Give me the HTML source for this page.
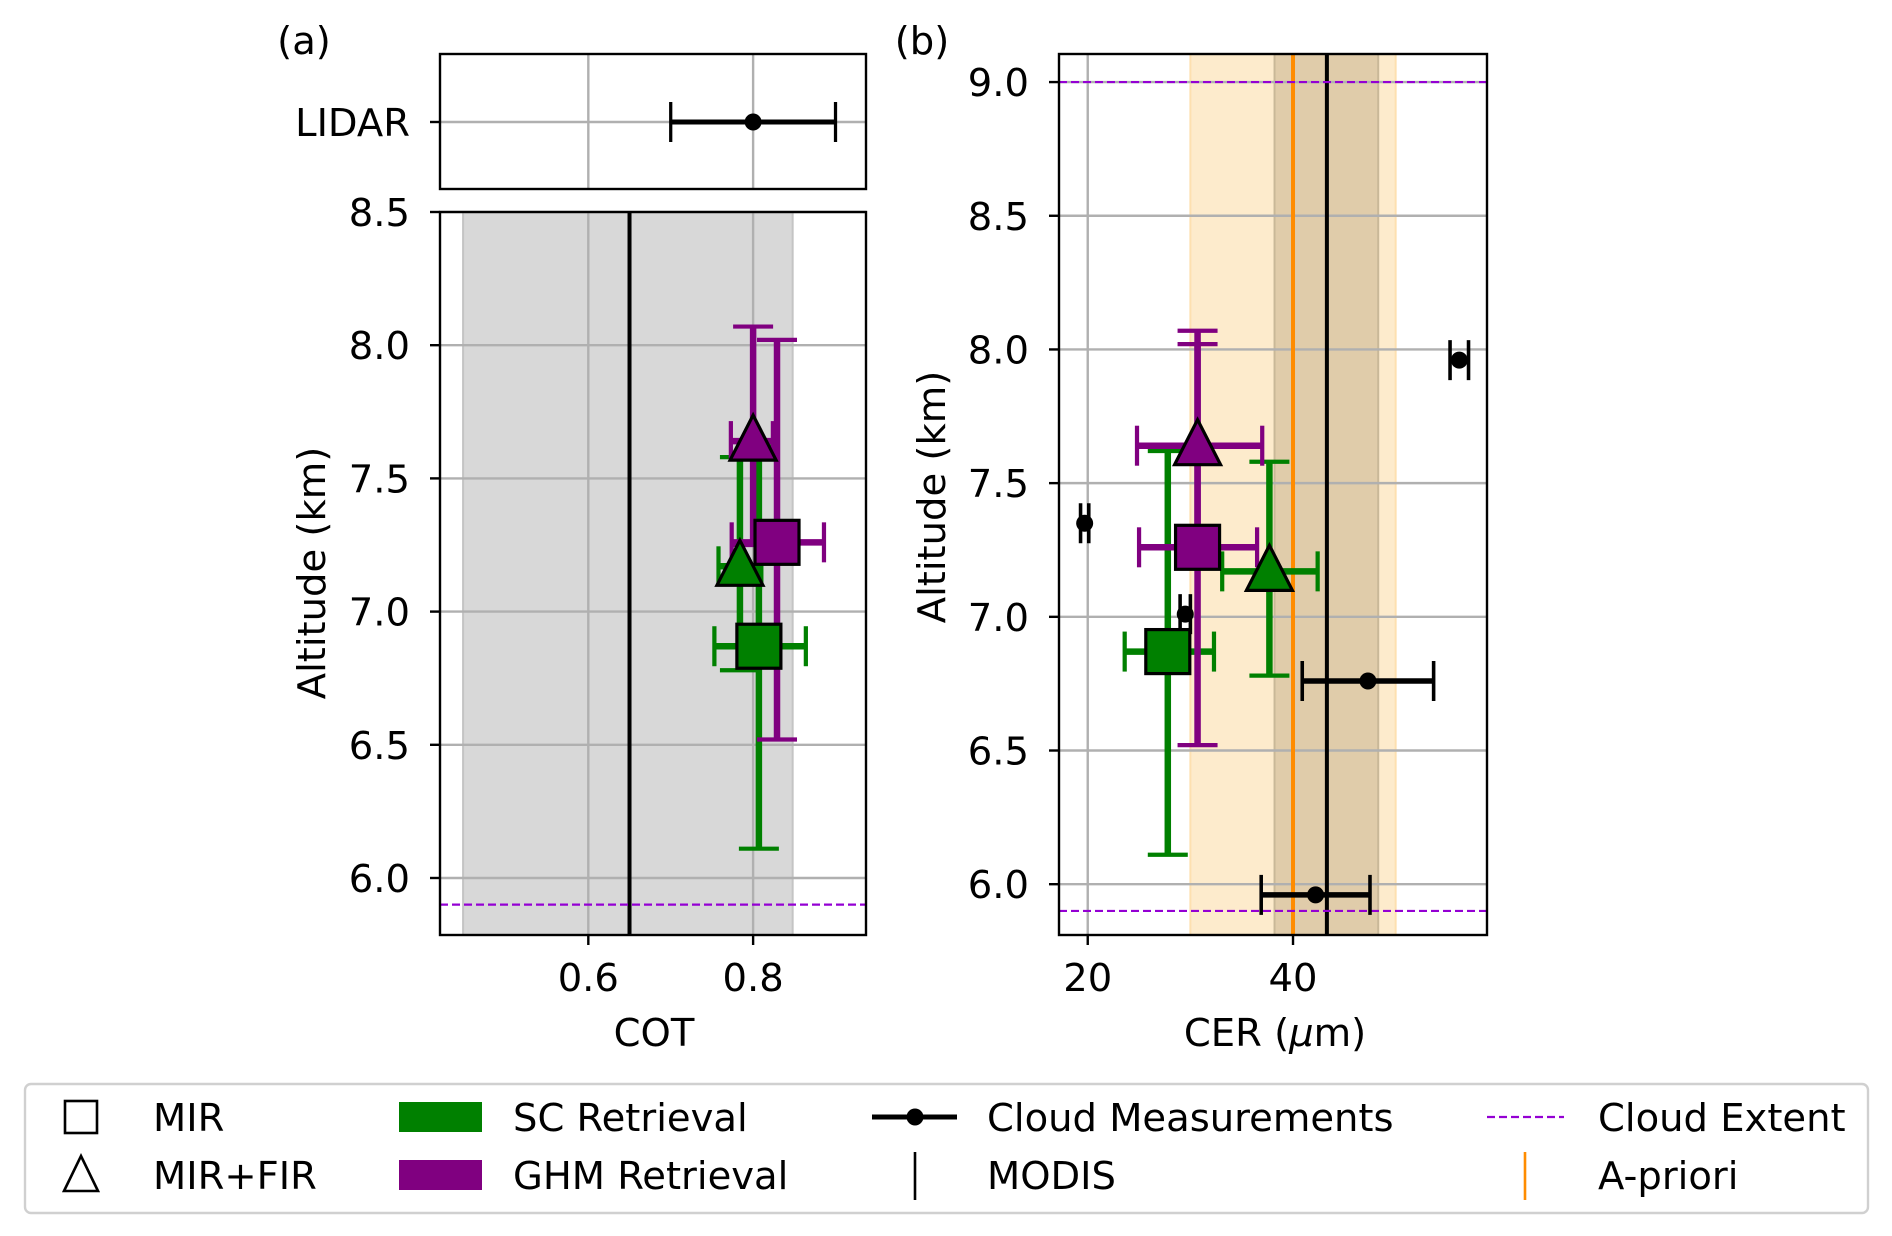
<!DOCTYPE html>
<html><head><meta charset="utf-8"><style>
html,body{margin:0;padding:0;background:#fff;}
svg{display:block;font-family:"DejaVu Sans","Liberation Sans",sans-serif;}
</style></head><body>
<svg id="chart" width="1892" height="1236" viewBox="0 0 1892 1236" xmlns="http://www.w3.org/2000/svg"></svg>
<script>
// ---- data ----
const cotTicks = [0.6, 0.8];
const cerTicks = [20, 40];
const altTicksA = [6.0, 6.5, 7.0, 7.5, 8.0, 8.5];
const altTicksB = [6.0, 6.5, 7.0, 7.5, 8.0, 8.5, 9.0];
const lidarCot = [0.8]; const lidarCotErr = [0.1];
const modisCot = [0.65]; const modisCotRange = [0.448, 0.848];
const modisCer = [43.3]; const modisCerRange = [38.2, 48.3];
const aprioriCer = [40]; const aprioriCerRange = [30, 50];
const cloudExtent = [5.9, 9.0];
const measCer = [56.2, 19.7, 29.5, 47.3, 42.2];
const measCerErr = [0.9, 0.4, 0.5, 6.4, 5.3];
const measAlt = [7.96, 7.35, 7.01, 6.76, 5.96];
const retNames = ['sc-mir', 'sc-mirfir', 'ghm-mir', 'ghm-mirfir'];
const retMarker = ['square', 'triangle', 'square', 'triangle'];
const retColor = ['green', 'green', 'purple', 'purple'];
const retAlt = [6.87, 7.17, 7.26, 7.64];
const retAltLo = [6.11, 6.78, 6.52, 7.25];
const retAltHi = [7.62, 7.58, 8.02, 8.07];
const retCot = [0.807, 0.784, 0.829, 0.800];
const retCotLo = [0.753, 0.758, 0.774, 0.773];
const retCotHi = [0.864, 0.810, 0.886, 0.824];
const retCer = [27.8, 37.7, 30.7, 30.7];
const retCerLo = [23.6, 33.1, 25.0, 24.8];
const retCerHi = [32.3, 42.4, 36.5, 37.0];

const NS = 'http://www.w3.org/2000/svg';
const svg = document.getElementById('chart');
function el(tag, attrs, parent, text){
  const e = document.createElementNS(NS, tag);
  for (const k in attrs) e.setAttribute(k, attrs[k]);
  if (text !== undefined) e.textContent = text;
  (parent || svg).appendChild(e);
  return e;
}
function lin(d0,d1,r0,r1){ return v => r0 + (v-d0)/(d1-d0)*(r1-r0); }

const A = {x0:440,x1:866,y0:212,y1:935};
const B = {x0:1059,x1:1487,y0:54,y1:935};
const xa = lin(0.42,0.937,A.x0,A.x1);
const ya = lin(8.5,5.786,A.y0,A.y1);
const xb = lin(17.2,58.9,B.x0,B.x1);
const yb = lin(9.105,5.81,B.y0,B.y1);
const FS = 38.5;
const TY = 14;

function gridAndTicks(g, P, xs, ys, xt, yt){
  xt.forEach(v=>{
    const l = el('line',{x1:xs(v),x2:xs(v),y1:P.y0,y2:P.y1,stroke:'#b0b0b0','stroke-width':2.4},g);
     
    el('line',{x1:xs(v),x2:xs(v),y1:P.y1,y2:P.y1+10,stroke:'#000','stroke-width':2.4},g);
    const t = el('text',{x:xs(v),y:P.y1+56,'text-anchor':'middle','font-size':FS},g, String(v));
     
  });
  yt.forEach(v=>{
    const l = el('line',{x1:P.x0,x2:P.x1,y1:ys(v),y2:ys(v),stroke:'#b0b0b0','stroke-width':2.4},g);
     
    el('line',{x1:P.x0-10,x2:P.x0,y1:ys(v),y2:ys(v),stroke:'#000','stroke-width':2.4},g);
    const t = el('text',{x:P.x0-30,y:ys(v)+TY,'text-anchor':'end','font-size':FS},g, v.toFixed(1));
     
  });
}
function errbar(g, cx, cy, x0, x1, y0, y1, color, w, cap){
  if (x0!==null){
    el('line',{x1:x0,x2:x1,y1:cy,y2:cy,stroke:color,'stroke-width':w},g);
    el('line',{x1:x0,x2:x0,y1:cy-cap,y2:cy+cap,stroke:color,'stroke-width':w*0.65},g);
    el('line',{x1:x1,x2:x1,y1:cy-cap,y2:cy+cap,stroke:color,'stroke-width':w*0.65},g);
  }
  if (y0!==null){
    el('line',{x1:cx,x2:cx,y1:y0,y2:y1,stroke:color,'stroke-width':w},g);
    el('line',{x1:cx-cap,x2:cx+cap,y1:y0,y2:y0,stroke:color,'stroke-width':w*0.65},g);
    el('line',{x1:cx-cap,x2:cx+cap,y1:y1,y2:y1,stroke:color,'stroke-width':w*0.65},g);
  }
}
function marker(g, type, cx, cy, color){
  let m;
  if (type==='square') m = el('rect',{x:cx-22,y:cy-22,width:44,height:44,fill:color,stroke:'#000','stroke-width':3.2},g);
  else m = el('polygon',{points:`${cx},${cy-26} ${cx+23},${cy+19} ${cx-23},${cy+19}`,fill:color,stroke:'#000','stroke-width':3.2},g);
  return m;
}

// ---------- Panel (a) ----------
const ga = el('g',{});  
const lab = el('text',{x:304,y:54,'text-anchor':'middle','font-size':FS},ga,'(a)');
 
const TA = {x0:440,x1:866,y0:54,y1:189};
const gl = el('g',{},ga);  
cotTicks.forEach(v=>{ el('line',{x1:xa(v),x2:xa(v),y1:TA.y0,y2:TA.y1,stroke:'#b0b0b0','stroke-width':2.4},gl); });
const ly = 122;
el('line',{x1:TA.x0,x2:TA.x1,y1:ly,y2:ly,stroke:'#b0b0b0','stroke-width':2.4},gl);
el('line',{x1:TA.x0-10,x2:TA.x0,y1:ly,y2:ly,stroke:'#000','stroke-width':2.4},gl);
const lt = el('text',{x:TA.x0-30,y:ly+TY,'text-anchor':'end','font-size':FS},gl,'LIDAR');
 
errbar(gl, xa(lidarCot[0]), ly, xa(lidarCot[0]-lidarCotErr[0]), xa(lidarCot[0]+lidarCotErr[0]), null, null, '#000', 5, 20);
const lp = el('circle',{cx:xa(lidarCot[0]),cy:ly,r:8.5,fill:'#000'},gl);
 
el('rect',{x:TA.x0,y:TA.y0,width:TA.x1-TA.x0,height:TA.y1-TA.y0,fill:'none',stroke:'#000','stroke-width':2.4},gl);

const gm = el('g',{},ga);  
el('defs',{},gm).innerHTML = `<clipPath id="ca"><rect x="${A.x0}" y="${A.y0}" width="${A.x1-A.x0}" height="${A.y1-A.y0}"/></clipPath><clipPath id="cb"><rect x="${B.x0}" y="${B.y0}" width="${B.x1-B.x0}" height="${B.y1-B.y0}"/></clipPath>`;
const band = el('rect',{x:xa(modisCotRange[0]),y:A.y0,width:xa(modisCotRange[1])-xa(modisCotRange[0]),height:A.y1-A.y0,fill:'#d8d8d8',stroke:'#c4c4c4','stroke-width':2},gm);
 
gridAndTicks(gm, A, xa, ya, cotTicks, altTicksA);
const mla = el('line',{x1:xa(modisCot[0]),x2:xa(modisCot[0]),y1:A.y0,y2:A.y1,stroke:'#000','stroke-width':4},gm);
 
const cea = el('line',{x1:A.x0,x2:A.x1,y1:ya(cloudExtent[0]),y2:ya(cloudExtent[0]),stroke:'#9400d3','stroke-width':2.2,'stroke-dasharray':'8,4'},gm);
 
const gra = el('g',{'clip-path':'url(#ca)'},gm);
for (let i=0;i<retNames.length;i++){
  const g = el('g',{},gra);
   
  errbar(g, xa(retCot[i]), ya(retAlt[i]), xa(retCotLo[i]), xa(retCotHi[i]), ya(retAltHi[i]), ya(retAltLo[i]), retColor[i], 6.5, 20);
}
for (let i=0;i<retNames.length;i++){
  const m = marker(gra, retMarker[i], xa(retCot[i]), ya(retAlt[i]), retColor[i]);
   
}
el('rect',{x:A.x0,y:A.y0,width:A.x1-A.x0,height:A.y1-A.y0,fill:'none',stroke:'#000','stroke-width':2.4},gm);
const xla = el('text',{x:654,y:1046,'text-anchor':'middle','font-size':FS},gm,'COT');
 
const yla = el('text',{x:0,y:0,'text-anchor':'middle','font-size':FS,transform:'translate(325,573) rotate(-90)'},gm,'Altitude (km)');
 

// ---------- Panel (b) ----------
const gb = el('g',{});  
const lbb = el('text',{x:922,y:54,'text-anchor':'middle','font-size':FS},gb,'(b)');
 
const ab = el('rect',{x:xb(aprioriCerRange[0]),y:B.y0,width:xb(aprioriCerRange[1])-xb(aprioriCerRange[0]),height:B.y1-B.y0,fill:'#fdebcc',stroke:'#fde0b0','stroke-width':2},gb);
 
const mb = el('rect',{x:xb(modisCerRange[0]),y:B.y0,width:xb(modisCerRange[1])-xb(modisCerRange[0]),height:B.y1-B.y0,fill:'#e0ccaa',stroke:'#c9b898','stroke-width':2},gb);
 
gridAndTicks(gb, B, xb, yb, cerTicks, altTicksB);
const apl = el('line',{x1:xb(aprioriCer[0]),x2:xb(aprioriCer[0]),y1:B.y0,y2:B.y1,stroke:'#ff8c00','stroke-width':4},gb);
 
const mlb = el('line',{x1:xb(modisCer[0]),x2:xb(modisCer[0]),y1:B.y0,y2:B.y1,stroke:'#000','stroke-width':4},gb);
 
cloudExtent.forEach(v=>{
  const c = el('line',{x1:B.x0,x2:B.x1,y1:yb(v),y2:yb(v),stroke:'#9400d3','stroke-width':2.2,'stroke-dasharray':'8,4'},gb);
   
});
const grb = el('g',{'clip-path':'url(#cb)'},gb);
for (let i=0;i<measCer.length;i++){
  const g = el('g',{},grb);
   
  errbar(g, xb(measCer[i]), yb(measAlt[i]), xb(measCer[i]-measCerErr[i]), xb(measCer[i]+measCerErr[i]), null, null, '#000', 5.5, 20);
  el('circle',{cx:xb(measCer[i]),cy:yb(measAlt[i]),r:8.5,fill:'#000'},g);
}
for (let i=0;i<retNames.length;i++){
  const g = el('g',{},grb);
   
  errbar(g, xb(retCer[i]), yb(retAlt[i]), xb(retCerLo[i]), xb(retCerHi[i]), yb(retAltHi[i]), yb(retAltLo[i]), retColor[i], 6.5, 20);
}
for (let i=0;i<retNames.length;i++){
  const m = marker(grb, retMarker[i], xb(retCer[i]), yb(retAlt[i]), retColor[i]);
   
}
el('rect',{x:B.x0,y:B.y0,width:B.x1-B.x0,height:B.y1-B.y0,fill:'none',stroke:'#000','stroke-width':2.4},gb);
const xlb = el('text',{x:1275,y:1046,'text-anchor':'middle','font-size':FS},gb);
xlb.innerHTML = 'CER (<tspan font-style="italic">μ</tspan>m)';
 
const ylb = el('text',{x:0,y:0,'text-anchor':'middle','font-size':FS,transform:'translate(945,497) rotate(-90)'},gb,'Altitude (km)');
 

// ---------- Legend ----------
const lg = el('g',{});  
el('rect',{x:25,y:1084,width:1843,height:129,rx:6,fill:'#fff',stroke:'#d0d0d0','stroke-width':2.4},lg);
function legText(x,y,t){
  const e = el('text',{x:x,y:y+TY,'font-size':FS},lg,t);
   
}
const r1 = 1117, r2 = 1175;
el('rect',{x:65,y:r1-16,width:32,height:32,fill:'none',stroke:'#000','stroke-width':2.6},lg);
legText(153,r1,'MIR');
el('polygon',{points:`81,${r2-19} 98,${r2+16} 64,${r2+16}`,fill:'none',stroke:'#000','stroke-width':2.6},lg);
legText(153,r2,'MIR+FIR');
el('rect',{x:399,y:r1-15,width:83,height:30,fill:'green'},lg);
legText(513,r1,'SC Retrieval');
el('rect',{x:399,y:r2-15,width:83,height:30,fill:'purple'},lg);
legText(513,r2,'GHM Retrieval');
el('line',{x1:872,x2:957,y1:r1,y2:r1,stroke:'#000','stroke-width':5}, lg);
el('circle',{cx:915,cy:r1,r:8.5,fill:'#000'},lg);
legText(987,r1,'Cloud Measurements');
el('line',{x1:915,x2:915,y1:r2-23,y2:r2+25,stroke:'#000','stroke-width':2.6},lg);
legText(987,r2,'MODIS');
el('line',{x1:1487,x2:1564,y1:r1,y2:r1,stroke:'#9400d3','stroke-width':2.2,'stroke-dasharray':'8,4'},lg);
legText(1598,r1,'Cloud Extent');
el('line',{x1:1525,x2:1525,y1:r2-23,y2:r2+25,stroke:'#ff8c00','stroke-width':2.6},lg);
legText(1598,r2,'A-priori');
</script>
</body></html>
